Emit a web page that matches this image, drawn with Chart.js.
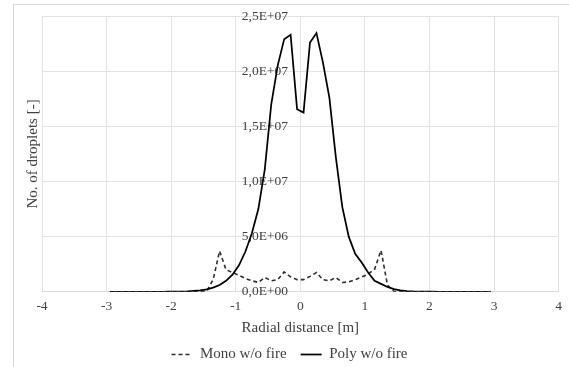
<!DOCTYPE html>
<html>
<head>
<meta charset="utf-8">
<script src="https://cdn.jsdelivr.net/npm/chart.js@4.4.1/dist/chart.umd.min.js"></script>
<style>
  html, body { margin: 0; padding: 0; background: #fff; overflow: hidden; }
  #frame { position: absolute; left: 13px; top: 4px; width: 600px; height: 400px; border: 1px solid #d9d9d9; }
  #wrap { position: absolute; left: 0; top: 0; width: 569px; height: 367px; }
</style>
</head>
<body>
<div id="frame"></div>
<div id="wrap"><canvas id="dropletChart" width="569" height="367"></canvas></div>
<script>
// Radial positions of the sampling bins [m]
const radialDistance = [
    -2.95, -2.85, -2.75, -2.65, -2.55, -2.45, -2.35, -2.25, -2.15, -2.05,
    -1.95, -1.85, -1.75, -1.65, -1.55, -1.45, -1.35, -1.25, -1.15, -1.05,
    -0.95, -0.85, -0.75, -0.65, -0.55, -0.45, -0.35, -0.25, -0.15, -0.05,
    0.05, 0.15, 0.25, 0.35, 0.45, 0.55, 0.65, 0.75, 0.85, 0.95,
    1.05, 1.15, 1.25, 1.35, 1.45, 1.55, 1.65, 1.75, 1.85, 1.95,
    2.05, 2.15, 2.25, 2.35, 2.45, 2.55, 2.65, 2.75, 2.85, 2.95,
];

// Droplet counts, monodisperse spray without fire
const monoNoFire = [
    0, 0, 0, 0, 0, 0, 0, 0, 0, 0,
    0, 0, 0, 0, 0, 0.05e6, 1.1e6, 3.7e6, 2.0e6, 1.75e6,
    1.5e6, 1.2e6, 1.0e6, 0.85e6, 1.3e6, 1.0e6, 1.1e6, 1.8e6, 1.35e6, 1.1e6,
    1.1e6, 1.4e6, 1.75e6, 1.1e6, 1.0e6, 1.3e6, 0.85e6, 0.9e6, 1.1e6, 1.35e6,
    1.6e6, 2.05e6, 3.75e6, 0.6e6, 0.05e6, 0, 0, 0, 0, 0,
    0, 0, 0, 0, 0, 0, 0, 0, 0, 0,
];

// Droplet counts, polydisperse spray without fire
const polyNoFire = [
    0, 0, 0, 0, 0, 0, 0, 0, 0, 0.005e6,
    0.01e6, 0.02e6, 0.04e6, 0.08e6, 0.13e6, 0.22e6, 0.38e6, 0.62e6, 1.0e6, 1.55e6,
    2.4e6, 3.65e6, 5.3e6, 7.5e6, 11.1e6, 17.0e6, 20.5e6, 22.9e6, 23.3e6, 16.55e6,
    16.25e6, 22.6e6, 23.45e6, 20.8e6, 17.6e6, 12.2e6, 7.7e6, 5.0e6, 3.45e6, 2.65e6,
    1.75e6, 1.0e6, 0.72e6, 0.44e6, 0.25e6, 0.13e6, 0.07e6, 0.03e6, 0.015e6, 0.01e6,
    0.005e6, 0, 0, 0, 0, 0, 0, 0, 0, 0,
];

const seriesNames = ["Mono w/o fire", "Poly w/o fire"];

const serif = "'Liberation Serif', 'Times New Roman', serif";
const textColor = "#404040";
const gridColor = "#e3e3e3";

// Excel style "2,5E+07"
function sciLabel(value) {
    if (value === 0) return "0,0E+00";
    const exp = Math.floor(Math.log10(value));
    const mant = value / Math.pow(10, exp);
    return mant.toFixed(1).replace(".", ",") + "E+" + String(exp).padStart(2, "0");
}

const toPoints = (values) => radialDistance.map((x, i) => ({ x, y: values[i] }));

// legend samples drawn as short lines, keeping the dash of each series
function lineLabels(chart) {
    const items = Chart.defaults.plugins.legend.labels.generateLabels(chart);
    items.forEach((item) => {
        const ds = chart.data.datasets[item.datasetIndex];
        item.strokeStyle = ds.borderColor;
        item.lineWidth = ds.borderWidth;
        item.lineDash = ds.borderDash || [];
    });
    return items;
}

const ctx = document.getElementById("dropletChart").getContext("2d");
new Chart(ctx, {
    type: "line",
    data: {
        datasets: [
            {
                label: seriesNames[1],
                data: toPoints(polyNoFire),
                borderColor: "#000000",
                borderWidth: 1.75,
                pointRadius: 0,
                tension: 0,
            },
            {
                label: seriesNames[0],
                data: toPoints(monoNoFire),
                borderColor: "#2e2e2e",
                borderWidth: 1.6,
                borderDash: [4, 3],
                pointRadius: 0,
                tension: 0,
            },
        ],
    },
    options: {
        responsive: false,
        animation: false,
        layout: { padding: { left: 20, right: 10, top: 16, bottom: -5 } },
        plugins: {
            legend: {
                position: "bottom",
                reverse: true,
                labels: {
                    usePointStyle: true,
                    pointStyle: "line",
                    pointStyleWidth: 21,
                    generateLabels: lineLabels,
                    color: textColor,
                    font: { family: serif, size: 15 },
                    padding: 14,
                },
            },
            tooltip: { enabled: false },
        },
        scales: {
            x: {
                type: "linear",
                min: -4,
                max: 4,
                ticks: {
                    stepSize: 1,
                    padding: 7,
                    color: textColor,
                    font: { family: serif, size: 13.5 },
                },
                grid: { color: gridColor, drawTicks: false },
                border: { color: "#d9d9d9" },
                title: {
                    display: true,
                    text: "Radial distance [m]",
                    color: textColor,
                    font: { family: serif, size: 15 },
                    padding: { top: -3, bottom: -4 },
                },
            },
            y: {
                min: 0,
                max: 2.5e7,
                ticks: { display: false, stepSize: 5e6 },
                grid: { color: gridColor, drawTicks: false },
                border: { display: false },
                title: {
                    display: true,
                    text: "No. of droplets [-]",
                    color: textColor,
                    font: { family: serif, size: 15 },
                    padding: { top: 4, bottom: 0 },
                },
            },
            // tick labels sit just left of the vertical axis at x = 0
            yLabels: {
                axis: "y",
                position: { x: -0.19 },
                min: 0,
                max: 2.5e7,
                ticks: {
                    stepSize: 5e6,
                    callback: sciLabel,
                    color: textColor,
                    font: { family: serif, size: 13.5 },
                },
                grid: { display: false },
                border: { display: false },
            },
        },
    },
});
</script>
</body>
</html>
